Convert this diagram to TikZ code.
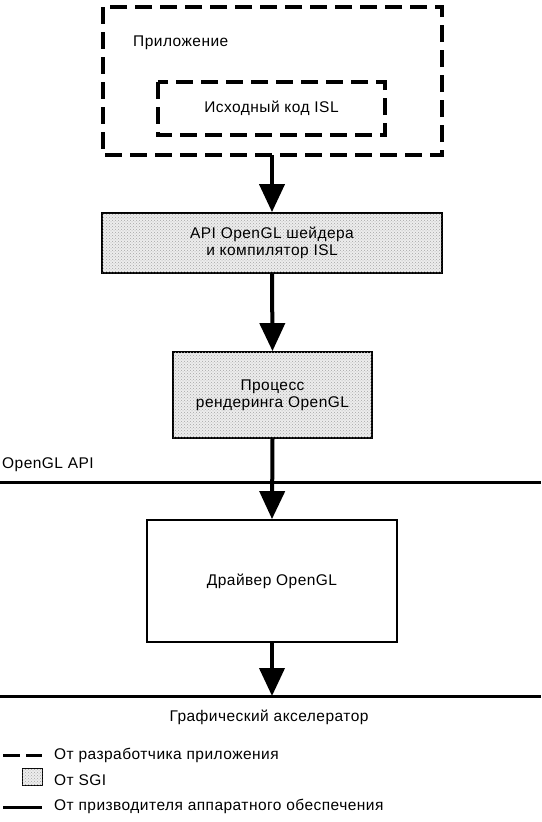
\documentclass[tikz,border=0pt]{standalone}
\usepackage{fontspec}
\setmainfont[LetterSpace=3]{Liberation Sans}
\usetikzlibrary{arrows.meta,patterns}
\tikzset{
  dashbox/.style={draw, line width=3.2pt, dash pattern=on 17pt off 8pt},
  sgibox/.style={draw, line width=1.8pt, fill=gray!14, postaction={pattern=crosshatch dots, pattern color=gray!70}},
  hwbox/.style={draw, line width=1.8pt, fill=white},
  flow/.style={line width=4pt, -{Triangle[width=25pt,length=28pt]}},
  hwline/.style={line width=3pt},
  lbl/.style={font=\fontsize{15.5}{17}\selectfont, align=center, inner sep=0pt},
}
\begin{document}
\begin{tikzpicture}[x=1pt,y=-1pt]
\useasboundingbox (0,0) rectangle (541,822);
% outer application box
\draw[dashbox] (103,7) rectangle (442,155);
\node[lbl, anchor=west] (app) at (133,43) {Приложение};
\draw[dashbox] (158,82) rectangle (385,135);
\node[lbl] (src) at (271.5,108.5) {Исходный код ISL};
\coordinate (appb) at (272,155);
% SGI box 1
\node[sgibox, lbl, minimum width=340pt, minimum height=60pt] (api) at (272,243) {API OpenGL шейдера\\и компилятор ISL};
% SGI box 2
\node[sgibox, lbl, minimum width=199pt, minimum height=86pt] (rend) at (272.5,395) {Процесс\\рендеринга OpenGL};
% OpenGL API line
\coordinate (l1a) at (0,482);
\coordinate (l1b) at (541,482);
\draw[hwline] (l1a) -- (l1b);
\node[lbl, anchor=west] (oglapi) at (2,465) {OpenGL API};
% driver
\node[hwbox, lbl, minimum width=250pt, minimum height=122pt] (drv) at (272,581) {Драйвер OpenGL};
% accelerator line
\coordinate (l2a) at (0,696);
\coordinate (l2b) at (541,696);
\draw[hwline] (l2a) -- (l2b);
\node[lbl] (acc) at (269,717) {Графический акселератор};
\coordinate (accp) at (272,696);
% arrows
\draw[flow] (appb) -- (api.north);
\draw[flow] (api.south) -- (rend.north);
\draw[flow] (rend.south) -- (drv.north);
\draw[flow] (drv.south) -- (accp);
% legend
\coordinate (d1) at (3,755);
\coordinate (d2) at (42,755);
\draw[line width=3pt, dash pattern=on 17pt off 6pt] (d1) -- (d2);
\node[lbl, anchor=west] (lg1) at (54,755) {От разработчика приложения};
\node[sgibox, line width=1.5pt, minimum width=20pt, minimum height=17pt, inner sep=0pt] (sq) at (32.5,777) {};
\node[lbl, anchor=west] (lg2) at (54,780) {От SGI};
\coordinate (s1) at (3,807);
\coordinate (s2) at (42,807);
\draw[hwline] (s1) -- (s2);
\node[lbl, anchor=west] (lg3) at (54,806) {От призводителя аппаратного обеспечения};
\end{tikzpicture}
\end{document}
